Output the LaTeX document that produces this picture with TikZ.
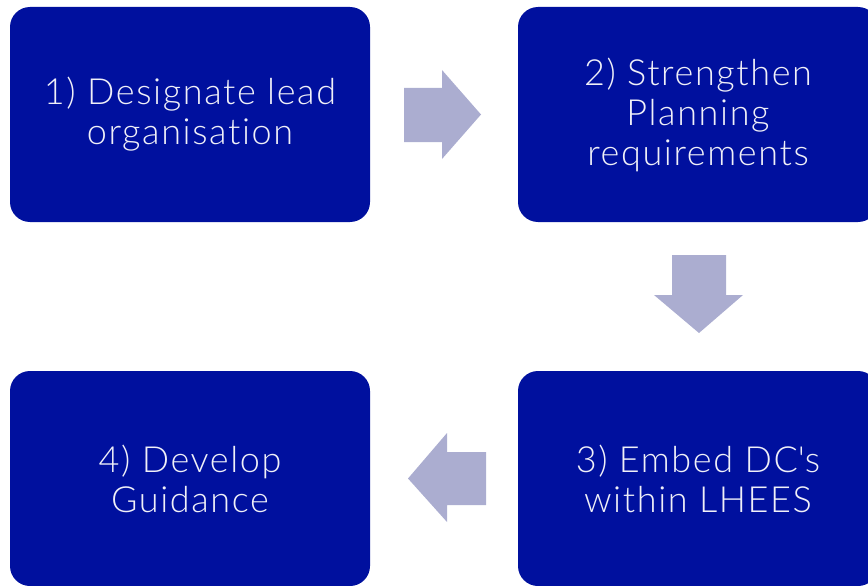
\documentclass[tikz,border=0pt]{standalone}
\usepackage{fontspec}
\setmainfont{Lato}[UprightFont={* Light}, LetterSpace=4.5, Ligatures={NoCommon}]
\definecolor{boxblue}{RGB}{0,16,158}
\definecolor{arrowlav}{RGB}{171,173,208}
\definecolor{textwhite}{RGB}{240,240,248}
\begin{document}
\begin{tikzpicture}[x=1pt,y=-1pt,
  stepbox/.style={fill=boxblue, rounded corners=20pt, minimum width=360pt, minimum height=215pt,
    inner sep=0pt, align=center, text=textwhite,
    font=\fontsize{36}{40}\selectfont},
  blockarrow/.style={fill=arrowlav}]
\useasboundingbox (0,0) rectangle (868,586);
\node[stepbox] (s1) at (190,114.5) {1) Designate lead\\organisation};
\node[stepbox] (s2) at (698,114.5) {2) Strengthen\\Planning\\requirements};
\node[stepbox] (s3) at (698,478.5) {3) Embed DC\textquotesingle s\\within LHEES};
\node[stepbox] (s4) at (190,478.5) {4) Develop\\Guidance};
% right arrow s1 -> s2
\fill[blockarrow] (404,88) -- (442,88) -- (442,70) -- (481,114.5) -- (442,159) -- (442,142) -- (404,142) -- cycle;
% down arrow s2 -> s3
\fill[blockarrow] (672,255) -- (726,255) -- (726,295) -- (743,295) -- (699,333) -- (654,295) -- (672,295) -- cycle;
% left arrow s3 -> s4
\fill[blockarrow] (486,452) -- (447,452) -- (447,433) -- (408,478.5) -- (447,522) -- (447,505) -- (486,505) -- cycle;
\end{tikzpicture}
\end{document}
